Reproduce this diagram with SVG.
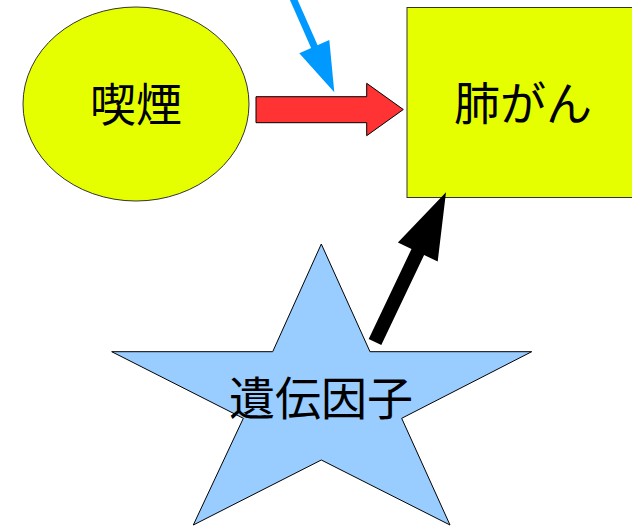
<svg xmlns="http://www.w3.org/2000/svg" width="632" height="528" viewBox="0 0 632 528">
<style>
.lbl{font-family:"Noto Sans CJK JP","Noto Sans CJK SC",sans-serif;font-size:46px;fill:#000;text-anchor:middle}
.yel{fill:#e6ff00;stroke:#333;stroke-width:1}
</style>
<rect width="632" height="528" fill="#fff"/>
<g id="smoking">
<ellipse class="yel" cx="136" cy="104" rx="113" ry="97"/>
<text class="lbl" x="136" y="121">喫煙</text>
</g>
<g id="lungcancer">
<rect class="yel" x="407" y="7.5" width="240" height="190"/>
<text class="lbl" x="523" y="120">肺がん</text>
</g>
<g id="gene">
<polygon points="321.3,244 272.7,351.7 111.7,351.7 243.3,418.3 193.3,525 321.3,460 450,525 401.7,418.3 531.7,351.7 370,351.7" fill="#99ccff" stroke="#000" stroke-width="1"/>
<text class="lbl" x="321" y="415">遺伝因子</text>
</g>
<g id="connectors">
<polygon points="256,96.7 366.7,96.7 366.7,83.3 403.3,109.5 366.7,135.7 366.7,122.7 256,122.7" fill="#ff3333" stroke="#000" stroke-width="1"/>
<line x1="292" y1="-4" x2="315" y2="48" stroke="#0099ff" stroke-width="7"/>
<polygon points="299.3,53.3 329.3,40 334.3,92.3" fill="#0099ff"/>
<polygon points="368.7,339 411.5,249 397.9,242.6 446,192.3 437.7,261.4 424.1,255 381.3,345" fill="#000"/>
</g>
</svg>
